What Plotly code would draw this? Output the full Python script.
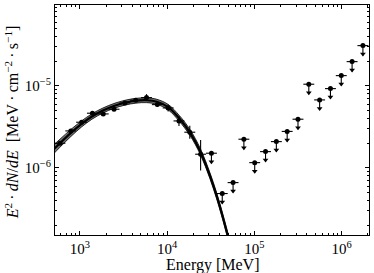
import numpy as np
import plotly.graph_objects as go

# ---------------- data ----------------
# detected spectral points: energy [MeV], E^2 dN/dE [MeV cm^-2 s^-1]
energy = [590, 785, 1045, 1390, 1849, 2460, 3273, 4355, 5794, 7709,
          10256, 13646, 18155, 24155]
flux = [2.0e-6, 2.826e-6, 3.607e-6, 4.646e-6, 4.555e-6, 5.197e-6, 6.205e-6,
        6.69e-6, 7.2e-6, 5.916e-6, 5.391e-6, 3.741e-6, 2.725e-6, 1.469e-6]
flux_hi = [2.086e-6, 2.947e-6, 3.762e-6, 4.846e-6, 4.751e-6, 5.420e-6, 6.472e-6,
           6.977e-6, 7.944e-6, 6.346e-6, 5.948e-6, 4.305e-6, 3.271e-6, 2.195e-6]
flux_lo = [1.918e-6, 2.710e-6, 3.459e-6, 4.455e-6, 4.368e-6, 4.984e-6, 5.950e-6,
           6.416e-6, 6.526e-6, 5.515e-6, 4.886e-6, 3.251e-6, 2.270e-6, 9.27e-7]

# upper limits
ul_energy = [32137, 42756, 56885, 75683, 100693, 133967, 178236, 237134,
             315497, 419755, 558464, 743008, 988537, 1315203, 1749813]
ul_flux = [1.511e-6, 4.87e-7, 6.62e-7, 2.239e-6, 1.16e-6, 1.58e-6, 2.093e-6,
           2.787e-6, 3.926e-6, 1.049e-5, 6.75e-6, 9.27e-6, 1.335e-5, 1.978e-5,
           3.10e-5]

# half bin width in decades of energy
bin_half_width_dex = 0.0625

# fitted model and its confidence band
model_energy = [480, 590, 789, 1045, 1372, 1834, 2450, 3275, 4377, 5803, 7620,
                10259, 13711, 18193, 24114, 30810, 36754, 41950, 48590, 53590]
model_flux = [1.61e-6, 2.0e-6, 2.673e-6, 3.44e-6, 4.233e-6, 5.012e-6, 5.70e-6,
              6.237e-6, 6.597e-6, 6.69e-6, 6.397e-6, 5.512e-6, 4.036e-6,
              2.717e-6, 1.567e-6, 8.1e-7, 4.62e-7, 2.865e-7, 1.611e-7, 1.088e-7]
model_hi = [1.827e-6, 2.238e-6, 2.949e-6, 3.742e-6, 4.567e-6, 5.376e-6, 6.097e-6,
            6.672e-6, 7.057e-6, 7.156e-6, 6.862e-6, 5.946e-6, 4.378e-6,
            2.956e-6, 1.705e-6, 8.81e-7, 5.03e-7, 3.117e-7, 1.753e-7, 1.184e-7]
model_lo = [1.419e-6, 1.787e-6, 2.423e-6, 3.162e-6, 3.924e-6, 4.672e-6, 5.328e-6,
            5.830e-6, 6.167e-6, 6.254e-6, 5.963e-6, 5.110e-6, 3.720e-6,
            2.497e-6, 1.440e-6, 7.45e-7, 4.25e-7, 2.634e-7, 1.481e-7, 1.0e-7]

# axes
x_range = [518, 2.055e6]
y_range = [1.52e-7, 9.7e-5]
xtick_vals = [1e3, 1e4, 1e5, 1e6]
xtick_text = ["10<sup>3</sup>", "10<sup>4</sup>", "10<sup>5</sup>", "10<sup>6</sup>"]
ytick_vals = [1e-6, 1e-5]
ytick_text = ["10<sup>\u22126</sup>", "10<sup>\u22125</sup>"]
x_title = "Energy [MeV]"
y_title = ("<i>E</i><sup>2</sup>\u2009\u00b7\u2009<i>dN</i>/<i>dE</i>  "
           "[MeV\u2009\u00b7\u2009cm<sup>\u22122</sup>\u2009\u00b7\u2009s<sup>\u22121</sup>]")

# ---------------- derived (styling) ----------------
E = np.array(energy, float)
F = np.array(flux, float)
xerr_p = E * (10 ** bin_half_width_dex - 1)
xerr_m = E * (1 - 10 ** -bin_half_width_dex)
yerr_p = np.array(flux_hi) - F
yerr_m = F - np.array(flux_lo)

UE = np.array(ul_energy, float)
UF = np.array(ul_flux, float)
uxerr_p = UE * (10 ** bin_half_width_dex - 1)
uxerr_m = UE * (1 - 10 ** -bin_half_width_dex)
arrow_len = 10 ** (-10 / 82)   # ~10 px downward
head_pos = 10 ** (-8.5 / 82)
uyerr_m = UF * (1 - arrow_len)

fig = go.Figure()

# band
fig.add_trace(go.Scatter(x=model_energy, y=model_lo, mode="lines",
                         line=dict(color="black", width=0.8, shape="spline"),
                         hoverinfo="skip"))
fig.add_trace(go.Scatter(x=model_energy, y=model_hi, mode="lines",
                         line=dict(color="black", width=0.8, shape="spline"),
                         fill="tonexty", fillcolor="rgba(100,100,100,0.9)",
                         hoverinfo="skip"))
# model line
fig.add_trace(go.Scatter(x=model_energy, y=model_flux, mode="lines",
                         line=dict(color="black", width=2.2, shape="spline")))

# detections
fig.add_trace(go.Scatter(
    x=energy, y=flux, mode="markers",
    marker=dict(color="black", size=5, symbol="circle"),
    error_x=dict(type="data", array=xerr_p, arrayminus=xerr_m, symmetric=False,
                 color="black", thickness=1.1, width=0),
    error_y=dict(type="data", array=yerr_p, arrayminus=yerr_m, symmetric=False,
                 color="black", thickness=1.1, width=0)))

# upper limits
fig.add_trace(go.Scatter(
    x=ul_energy, y=ul_flux, mode="markers",
    marker=dict(color="black", size=5, symbol="circle"),
    error_x=dict(type="data", array=uxerr_p, arrayminus=uxerr_m, symmetric=False,
                 color="black", thickness=1.1, width=0),
    error_y=dict(type="data", array=np.zeros_like(UF), arrayminus=uyerr_m,
                 symmetric=False, color="black", thickness=1.1, width=0)))
fig.add_trace(go.Scatter(
    x=ul_energy, y=UF * head_pos, mode="markers",
    marker=dict(color="black", size=5, symbol="triangle-down")))

minor_x = [m * 10 ** p for p in range(2, 7) for m in range(2, 10)]
minor_y = [m * 10 ** p for p in range(-8, -3) for m in range(2, 10)]

axis_common = dict(type="log", ticks="inside", ticklen=4, tickwidth=1,
                   tickcolor="black", showline=True, linecolor="black",
                   linewidth=1, mirror="allticks", showgrid=False,
                   zeroline=False, tickmode="array")

fig.update_xaxes(range=[np.log10(x_range[0]), np.log10(x_range[1])],
                 tickvals=xtick_vals, ticktext=xtick_text,
                 minor=dict(ticks="inside", ticklen=2, tickcolor="black",
                            tickvals=minor_x, showgrid=False),
                 **axis_common)
fig.update_yaxes(range=[np.log10(y_range[0]), np.log10(y_range[1])],
                 tickvals=ytick_vals, ticktext=ytick_text,
                 minor=dict(ticks="inside", ticklen=2, tickcolor="black",
                            tickvals=minor_y, showgrid=False),
                 **axis_common)

fig.update_layout(
    width=374, height=273,
    margin=dict(l=55, r=5, t=5, b=38, autoexpand=False),
    paper_bgcolor="white", plot_bgcolor="white",
    showlegend=False,
    font=dict(family="Liberation Serif", size=15, color="black"),
    annotations=[
        dict(text=x_title, xref="paper", yref="paper", x=0.5, y=-0.13,
             xanchor="center", yanchor="middle", showarrow=False,
             font=dict(size=16)),
        dict(text=y_title, xref="paper", yref="paper", x=-0.137, y=0.49,
             xanchor="center", yanchor="middle", textangle=-90,
             showarrow=False, font=dict(size=16)),
    ],
)

fig.write_html("out.html",
               config={"displayModeBar": False},
               post_script="document.body.style.margin='0px';"
                           "document.body.style.overflow='hidden';")
